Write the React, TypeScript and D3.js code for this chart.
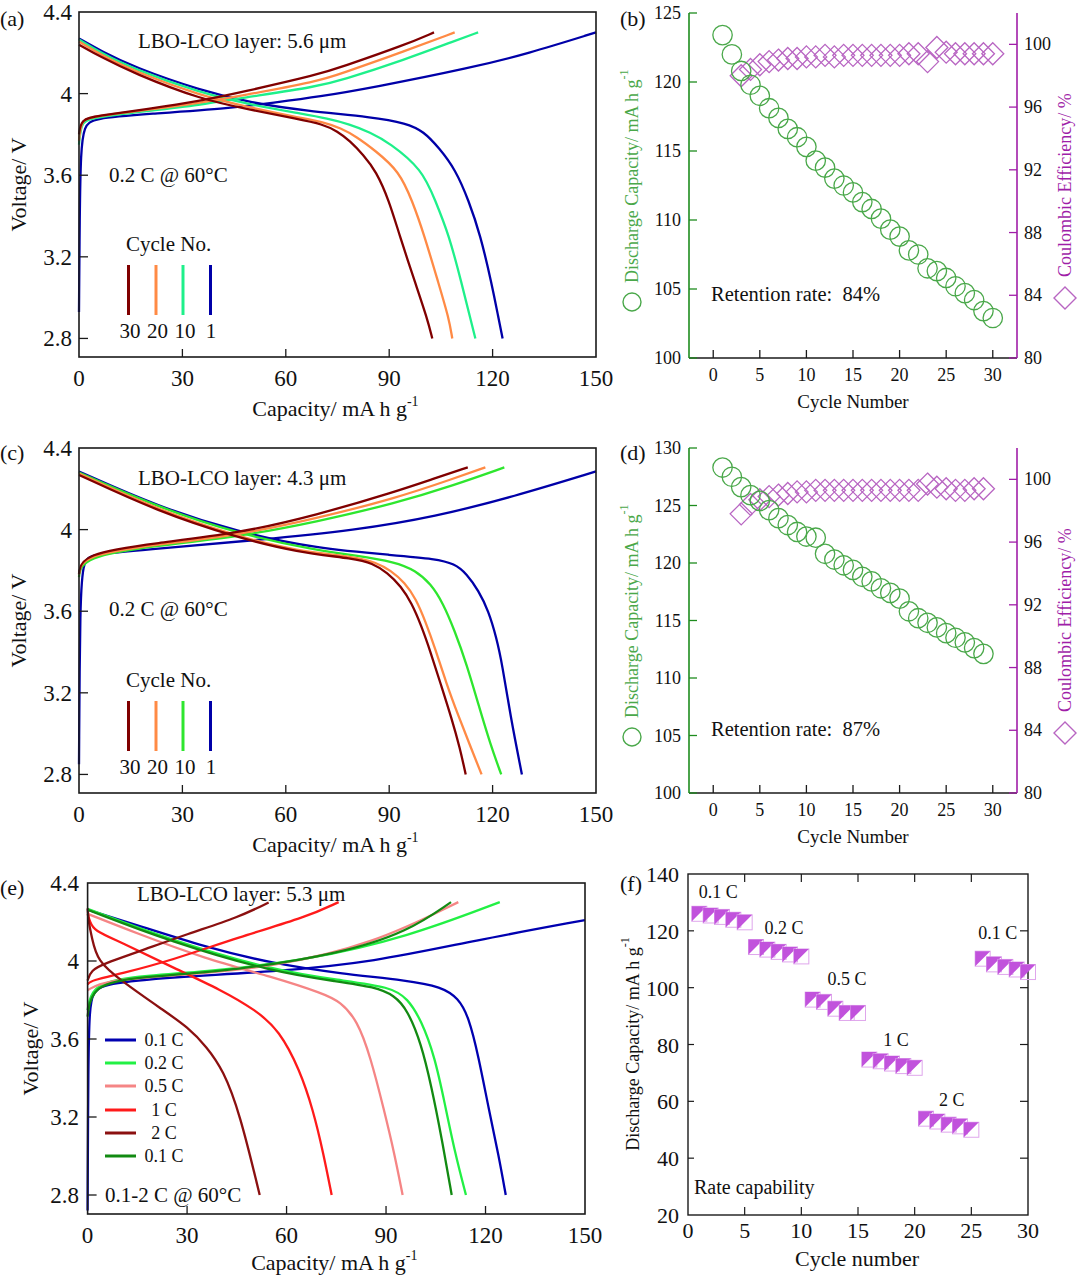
import React from "react";
import * as d3 from "d3";

type P = [number, number];
const SERIF = "'Liberation Serif','Times New Roman',Times,serif";

// ---------------- (a) LBO-LCO 5.6 um : [capacity, voltage] ----------------
const aChg1: P[] = [[0,2.93],[0.2,3.4],[0.5,3.72],[1.5,3.84],[4,3.88],[20,3.9],[44.8,3.93],[56.2,3.955],[69.8,3.985],[85.1,4.029],[113.9,4.127],[130,4.195],[150,4.3]];
const aChg10: P[] = [[0,3.75],[0.6,3.85],[2.5,3.88],[20,3.915],[35.2,3.945],[46.7,3.977],[69.8,4.037],[75.6,4.062],[94.8,4.168],[109.2,4.26],[115.8,4.3]];
const aChg20: P[] = [[0,3.77],[0.6,3.86],[2.5,3.885],[20,3.92],[35.2,3.955],[46.7,3.988],[69.8,4.062],[75.6,4.095],[94.8,4.21],[109,4.3]];
const aChg30: P[] = [[0,3.8],[0.6,3.874],[5,3.89],[20,3.925],[35.2,3.964],[46.7,4.005],[69.8,4.095],[75.6,4.127],[94.8,4.24],[103,4.3]];
const aDis1: P[] = [[0,4.27],[6.3,4.21],[15.9,4.13],[35.2,4.016],[50,3.955],[65.9,3.915],[85.2,3.885],[95,3.855],[100,3.815],[104.4,3.735],[109.2,3.629],[113.1,3.474],[116.4,3.31],[119.8,3.065],[121.7,2.9],[122.9,2.8]];
const aDis10: P[] = [[0,4.265],[6.3,4.2],[15.9,4.12],[35.2,4.004],[50,3.945],[65,3.9],[72,3.878],[78.5,3.85],[84.5,3.81],[90,3.76],[99.6,3.629],[103.4,3.474],[107.3,3.31],[111.1,3.065],[113.5,2.9],[115,2.8]];
const aDis20: P[] = [[0,4.255],[6.3,4.19],[15.9,4.11],[35.2,3.99],[50,3.93],[63,3.885],[70.8,3.862],[76,3.83],[80.4,3.79],[86,3.72],[92.9,3.62],[96.7,3.474],[100.1,3.31],[104.4,3.065],[107.3,2.9],[108.3,2.8]];
const aDis30: P[] = [[0,4.24],[6.3,4.18],[15.9,4.1],[35.2,3.972],[50,3.92],[63,3.877],[70.8,3.85],[75,3.815],[78.5,3.77],[82.5,3.7],[86.2,3.62],[90,3.474],[92.9,3.31],[97.7,3.065],[101,2.9],[102.5,2.8]];

// ---------------- (c) LBO-LCO 4.3 um ----------------
const cChg1: P[] = [[0,2.85],[0.3,3.67],[1.2,3.857],[4.6,3.88],[23,3.907],[51.6,3.948],[80.3,3.997],[103.3,4.063],[126.2,4.162],[150,4.285]];
const cChg10: P[] = [[0,3.767],[0.8,3.866],[23,3.923],[45.9,3.964],[68.9,4.038],[91.8,4.129],[109,4.219],[123.4,4.305]];
const cChg20: P[] = [[0,3.78],[0.8,3.874],[23,3.928],[45.9,3.972],[68.9,4.055],[91.8,4.153],[109,4.252],[117.9,4.305]];
const cChg30: P[] = [[0,3.783],[0.8,3.882],[23,3.935],[45.9,3.981],[68.9,4.071],[91.8,4.186],[103.3,4.252],[112.8,4.305]];
const cDis1: P[] = [[0,4.285],[23,4.112],[45.9,3.989],[68.9,3.907],[91.8,3.874],[103.3,3.857],[109,3.833],[112.5,3.783],[115.9,3.701],[118.8,3.602],[121.1,3.471],[122.8,3.339],[125.1,3.093],[128.5,2.8]];
const cDis10: P[] = [[0,4.28],[23,4.109],[45.9,3.981],[68.9,3.898],[80.3,3.874],[91.8,3.841],[97.6,3.8],[102.1,3.734],[105.6,3.64],[109,3.504],[112.5,3.339],[115.9,3.142],[119.4,2.945],[122.5,2.8]];
const cDis20: P[] = [[0,4.275],[23,4.096],[45.9,3.967],[63.1,3.895],[80.3,3.866],[86,3.84],[90.5,3.8],[94.5,3.74],[97.8,3.66],[100.5,3.55],[103.3,3.42],[106.5,3.25],[110,3.09],[113.5,2.94],[116.8,2.8]];
const cDis30: P[] = [[0,4.268],[23,4.088],[45.9,3.961],[63.1,3.89],[80.3,3.857],[85,3.835],[89.5,3.79],[93.5,3.72],[96.5,3.64],[99.3,3.53],[102,3.4],[105,3.24],[108.2,3.07],[110.5,2.93],[112.2,2.8]];

// ---------------- (e) LBO-LCO 5.3 um, rate test ----------------
const eChg01: P[] = [[0,2.72],[0.2,3.5],[0.6,3.75],[1.5,3.84],[4.9,3.884],[25.3,3.918],[55.8,3.944],[86.4,3.995],[116.9,4.106],[150,4.21]];
const eDis01: P[] = [[0,4.263],[15.1,4.183],[35.4,4.072],[55.8,3.987],[76.2,3.935],[96.5,3.901],[106.7,3.868],[111.8,3.81],[114.9,3.715],[117.9,3.51],[121,3.238],[124,3.0],[126.1,2.8]];
const eChg02: P[] = [[0,3.748],[1.2,3.866],[10,3.918],[35.4,3.944],[66,4.003],[96.5,4.123],[124.3,4.302]];
const eDis02: P[] = [[0,4.268],[25.3,4.106],[55.8,3.953],[76.2,3.901],[91.4,3.867],[96.5,3.808],[100.6,3.697],[104.7,3.509],[107.7,3.27],[110.8,3.015],[114.1,2.8]];
const eChg05: P[] = [[0,3.85],[4.9,3.9],[25.3,3.925],[55.8,3.967],[86.4,4.089],[111.8,4.302]];
const eDis05: P[] = [[0,4.242],[15.1,4.14],[35.4,4.012],[55.8,3.918],[71.1,3.833],[76.2,3.791],[81.3,3.697],[85.3,3.509],[89.4,3.236],[92.5,3.015],[95,2.8]];
const eChg1: P[] = [[0,3.88],[1,3.9],[10,3.935],[25.3,4.003],[45.6,4.123],[66,4.225],[75.7,4.302]];
const eDis1: P[] = [[0,4.24],[0.8,4.2],[1.8,4.157],[10,4.097],[25.3,3.97],[40.5,3.85],[50.7,3.748],[57.8,3.645],[64,3.441],[68,3.236],[71.1,3.015],[73.6,2.8]];
const eChg2: P[] = [[0,3.9],[1,3.952],[4.9,3.986],[15.1,4.046],[30.3,4.14],[45.6,4.225],[54.6,4.3]];
const eDis2: P[] = [[0,4.27],[0.3,4.2],[1.3,4.12],[2.9,4.0],[10,3.9],[22.7,3.749],[30.3,3.66],[35.9,3.56],[40.9,3.441],[45.9,3.22],[51.9,2.8]];
const eChg01b: P[] = [[0,3.715],[1.2,3.877],[15.1,3.918],[45.6,3.953],[76.2,4.038],[96.5,4.149],[109.6,4.302]];
const eDis01b: P[] = [[0,4.263],[25.3,4.097],[55.8,3.944],[76.2,3.893],[86.4,3.867],[92.5,3.825],[96.5,3.748],[100.6,3.577],[103.7,3.356],[106.7,3.1],[109.8,2.8]];
const eLegend = ["0.1 C", "0.2 C", "0.5 C", "1 C", "2 C", "0.1 C"];
const eColors = ["#0000b0", "#22f044", "#f58585", "#ff1a1a", "#8b1010", "#128a12"];

// ---------------- (b), (d) cycling ----------------
const bCap = [123.4,122.0,120.8,119.8,119.0,118.1,117.4,116.6,116.0,115.3,114.3,113.8,113.0,112.5,112.0,111.3,110.8,110.1,109.3,108.8,107.8,107.5,106.5,106.3,105.8,105.2,104.7,104.2,103.4,102.9];
const bCE = [98.0,98.4,98.7,98.9,99.0,99.1,99.1,99.2,99.2,99.3,99.2,99.3,99.3,99.3,99.3,99.3,99.3,99.3,99.4,99.4,98.9,99.8,99.5,99.4,99.4,99.4,99.4,99.4];
const dCap = [128.3,127.5,126.6,125.9,125.4,124.6,123.9,123.3,122.7,122.3,122.2,120.8,120.3,119.8,119.4,118.8,118.4,117.8,117.4,116.9,115.8,115.2,114.8,114.4,113.9,113.5,113.1,112.6,112.1];
const dCE = [97.8,98.4,98.7,98.9,99.0,99.1,99.2,99.2,99.3,99.3,99.3,99.3,99.3,99.3,99.3,99.3,99.3,99.3,99.3,99.3,99.7,99.5,99.4,99.3,99.3,99.4,99.4];
const ceFirstCycle = 3;

// ---------------- (f) rate capability ----------------
const fCap = [126.0,125.4,124.9,123.9,123.0,114.3,113.4,112.6,111.7,111.0,95.8,95.0,92.6,91.1,91.1,74.7,74.1,73.3,72.4,71.8,53.9,52.9,51.8,51.2,50.0,110.2,108.2,107.3,106.4,105.5];
const fRateLabels = ["0.1 C", "0.2 C", "0.5 C", "1 C", "2 C", "0.1 C"];
const fRateLabelPos: P[] = [[2.67,133.8],[8.48,121.1],[14.03,103.2],[18.35,81.7],[23.28,60.6],[27.33,119.4]];

const voltXTicks = [0, 30, 60, 90, 120, 150];
const voltYTicks = [2.8, 3.2, 3.6, 4, 4.4];
const cycXTicks = [0, 5, 10, 15, 20, 25, 30];
const ceTicks = [80, 84, 88, 92, 96, 100];
const fYTicks = [20, 40, 60, 80, 100, 120, 140];
const cycleNoLabels = ["30", "20", "10", "1"];

const GREEN_AX = "#1e8c1e";
const GREEN_MK = "#4aa84a";
const PURPLE_AX = "#a01ea8";
const PURPLE_MK = "#b865c2";

type Curve = { data: P[]; color: string };

function VoltPanel(props: {
  l: number; r: number; t: number; b: number; yMin: number; curves: Curve[];
  ylx: number; tickRight: number; xLabBase: number; xTitleBase: number;
}) {
  const { l, r, t, b, yMin, curves } = props;
  const x = d3.scaleLinear().domain([0, 150]).range([l, r]);
  const y = d3.scaleLinear().domain([yMin, 4.4]).range([b, t]);
  const line = d3.line<P>().x((d) => x(d[0])).y((d) => y(d[1])).curve(d3.curveBasis);
  return (
    <g>
      {curves.map((c, i) => (
        <path key={i} d={line(c.data) || ""} fill="none" stroke={c.color} strokeWidth={2.3} strokeLinejoin="round" />
      ))}
      <rect x={l} y={t} width={r - l} height={b - t} fill="none" stroke="#1a1a1a" strokeWidth={1.6} />
      {voltXTicks.filter((v) => v > 0 && v < 150).map((v) => (
        <line key={"xt" + v} x1={x(v)} x2={x(v)} y1={b} y2={b - 8} stroke="#1a1a1a" strokeWidth={1.3} />
      ))}
      {voltYTicks.filter((v) => v < 4.4).map((v) => (
        <line key={"yt" + v} x1={l} x2={l + 9} y1={y(v)} y2={y(v)} stroke="#1a1a1a" strokeWidth={1.3} />
      ))}
      {voltXTicks.map((v) => (
        <text key={"xl" + v} x={x(v)} y={props.xLabBase} textAnchor="middle" fontSize={23}>{v}</text>
      ))}
      {voltYTicks.map((v) => (
        <text key={"yl" + v} x={props.tickRight} y={y(v) + 8} textAnchor="end" fontSize={23}>{String(v)}</text>
      ))}
      <text x={(l + r) / 2 - 2} y={props.xTitleBase} textAnchor="middle" fontSize={22}>
        Capacity/ mA h g<tspan dy={-10} fontSize={14}>-1</tspan>
      </text>
      <text transform={`translate(${props.ylx},${(t + b) / 2}) rotate(-90)`} textAnchor="middle" dominantBaseline="central" fontSize={22}>Voltage/ V</text>
    </g>
  );
}

function CycleLegend({ yTop, colors }: { yTop: number; colors: string[] }) {
  const xs = [128.5, 156, 183, 210.5];
  const labelX = [130, 157.5, 185, 211];
  return (
    <g>
      <text x={126} y={yTop} fontSize={21}>Cycle No.</text>
      {colors.map((c, i) => (
        <line key={i} x1={xs[i]} x2={xs[i]} y1={yTop + 14} y2={yTop + 64} stroke={c} strokeWidth={3} />
      ))}
      {cycleNoLabels.map((s, i) => (
        <text key={s} x={labelX[i]} y={yTop + 87} textAnchor="middle" fontSize={21}>{s}</text>
      ))}
    </g>
  );
}

function CyclePanel(props: { t: number; b: number; capMax: number; capTicks: number[]; cap: number[]; ce: number[]; retention: string; }) {
  const { t, b, capMax, cap, ce } = props;
  const l = 689, r = 1017;
  const x = d3.scaleLinear().domain([-2.6, 32.6]).range([l, r]);
  const yL = d3.scaleLinear().domain([100, capMax]).range([b, t]);
  const yR = d3.scaleLinear().domain([80, 102]).range([b, t]);
  const s = 11;
  const diamond = (cx: number, cy: number, h: number) => `M${cx},${cy - h}L${cx + h},${cy}L${cx},${cy + h}L${cx - h},${cy}Z`;
  return (
    <g>
      {ce.map((v, i) => (
        <path key={"d" + i} d={diamond(x(i + ceFirstCycle), yR(v), s)} fill="none" stroke={PURPLE_MK} strokeWidth={1.3} />
      ))}
      {cap.map((v, i) => (
        <circle key={"c" + i} cx={x(i + 1)} cy={yL(v)} r={9.7} fill="none" stroke={GREEN_MK} strokeWidth={1.3} />
      ))}
      <line x1={l} x2={r} y1={b} y2={b} stroke="#1a1a1a" strokeWidth={1.6} />
      <line x1={l} x2={l} y1={t} y2={b} stroke={GREEN_AX} strokeWidth={1.6} />
      <line x1={r} x2={r} y1={t} y2={b} stroke={PURPLE_AX} strokeWidth={1.6} />
      {cycXTicks.map((v) => (
        <g key={"x" + v}>
          <line x1={x(v)} x2={x(v)} y1={b} y2={b - 8} stroke="#1a1a1a" strokeWidth={1.3} />
          <text x={x(v)} y={b + 23} textAnchor="middle" fontSize={18}>{v}</text>
        </g>
      ))}
      {props.capTicks.map((v) => (
        <g key={"yl" + v}>
          <line x1={l} x2={l + 8} y1={yL(v)} y2={yL(v)} stroke={GREEN_AX} strokeWidth={1.3} />
          <text x={681} y={yL(v) + 6} textAnchor="end" fontSize={18}>{v}</text>
        </g>
      ))}
      {ceTicks.map((v) => (
        <g key={"yr" + v}>
          <line x1={r} x2={r - 8} y1={yR(v)} y2={yR(v)} stroke={PURPLE_AX} strokeWidth={1.3} />
          <text x={1024} y={yR(v) + 6} textAnchor="start" fontSize={18}>{v}</text>
        </g>
      ))}
      <text x={853} y={b + 50} textAnchor="middle" fontSize={19}>Cycle Number</text>
      <text x={711} y={b - 57} fontSize={20.5} xmlSpace="preserve" style={{ whiteSpace: "pre" }}>{props.retention}</text>
      <circle cx={632} cy={b - 56} r={9} fill="none" stroke={GREEN_MK} strokeWidth={1.4} />
      <text transform={`translate(632,${b - 75}) rotate(-90)`} textAnchor="start" dominantBaseline="central" fontSize={18} fill={GREEN_MK}>
        Discharge Capacity/ mA h g<tspan dy={-8} fontSize={12}>-1</tspan>
      </text>
      <path d={diamond(1065, b - 60, 11)} fill="none" stroke={PURPLE_MK} strokeWidth={1.4} />
      <text transform={`translate(1065,${b - 81}) rotate(-90)`} textAnchor="start" dominantBaseline="central" fontSize={18} fill={PURPLE_AX}>
        Coulombic Efficiency/ %
      </text>
    </g>
  );
}

function RatePanel() {
  const l = 688, r = 1028, t = 874, b = 1215;
  const x = d3.scaleLinear().domain([0, 30]).range([l, r]);
  const y = d3.scaleLinear().domain([20, 140]).range([b, t]);
  const s = 15;
  return (
    <g>
      <rect x={l} y={t} width={r - l} height={b - t} fill="none" stroke="#1a1a1a" strokeWidth={1.4} />
      {cycXTicks.filter((v) => v > 0 && v < 30).map((v) => (
        <g key={"x" + v}>
          <line x1={x(v)} x2={x(v)} y1={b} y2={b - 8} stroke="#1a1a1a" strokeWidth={1.2} />
          <line x1={x(v)} x2={x(v)} y1={t} y2={t + 8} stroke="#1a1a1a" strokeWidth={1.2} />
        </g>
      ))}
      {fYTicks.filter((v) => v > 20 && v < 140).map((v) => (
        <g key={"y" + v}>
          <line x1={r} x2={r - 8} y1={y(v)} y2={y(v)} stroke="#1a1a1a" strokeWidth={1.2} />
          <line x1={l} x2={l + 6} y1={y(v)} y2={y(v)} stroke="#1a1a1a" strokeWidth={1.2} />
        </g>
      ))}
      {cycXTicks.map((v) => (
        <text key={"xl" + v} x={x(v)} y={1238} textAnchor="middle" fontSize={22}>{v}</text>
      ))}
      {fYTicks.map((v) => (
        <text key={"yl" + v} x={679} y={y(v) + 8} textAnchor="end" fontSize={22}>{v}</text>
      ))}
      {fCap.map((v, i) => {
        const cx = x(i + 1), cy = y(v);
        return (
          <g key={"m" + i}>
            <rect x={cx - s / 2} y={cy - s / 2} width={s} height={s} fill="none" stroke="#dfa6ec" strokeWidth={1} />
            <path d={`M${cx - s / 2},${cy - s / 2}L${cx + s / 2},${cy - s / 2}L${cx - s / 2},${cy + s / 2}Z`} fill="#c152dc" />
          </g>
        );
      })}
      {fRateLabels.map((lab, i) => (
        <text key={"rl" + i} x={x(fRateLabelPos[i][0])} y={y(fRateLabelPos[i][1]) + 6} textAnchor="middle" fontSize={18}>{lab}</text>
      ))}
      <text x={694} y={1194} fontSize={20}>Rate capability</text>
      <text x={857} y={1266} textAnchor="middle" fontSize={22}>Cycle number</text>
      <text transform={`translate(633,1044) rotate(-90)`} textAnchor="middle" dominantBaseline="central" fontSize={18}>
        Discharge Capacity/ mA h g<tspan dy={-8} fontSize={12}>-1</tspan>
      </text>
    </g>
  );
}

export default function App() {
  const acColors = ["#0000a8", "#1ef08a", "#ff8a45", "#800000"];
  const cColors = ["#0000a8", "#2ee62e", "#ff8a45", "#800000"];
  const aCurves: Curve[] = [
    { data: aChg1, color: acColors[0] }, { data: aDis1, color: acColors[0] },
    { data: aChg10, color: acColors[1] }, { data: aDis10, color: acColors[1] },
    { data: aChg20, color: acColors[2] }, { data: aDis20, color: acColors[2] },
    { data: aChg30, color: acColors[3] }, { data: aDis30, color: acColors[3] },
  ];
  const cCurves: Curve[] = [
    { data: cChg1, color: cColors[0] }, { data: cDis1, color: cColors[0] },
    { data: cChg10, color: cColors[1] }, { data: cDis10, color: cColors[1] },
    { data: cChg20, color: cColors[2] }, { data: cDis20, color: cColors[2] },
    { data: cChg30, color: cColors[3] }, { data: cDis30, color: cColors[3] },
  ];
  const eCurves: Curve[] = [
    { data: eChg01, color: eColors[0] }, { data: eDis01, color: eColors[0] },
    { data: eChg02, color: eColors[1] }, { data: eDis02, color: eColors[1] },
    { data: eChg05, color: eColors[2] }, { data: eDis05, color: eColors[2] },
    { data: eChg1, color: eColors[3] }, { data: eDis1, color: eColors[3] },
    { data: eChg2, color: eColors[4] }, { data: eDis2, color: eColors[4] },
    { data: eChg01b, color: eColors[5] }, { data: eDis01b, color: eColors[5] },
  ];
  const legendColors = [acColors[3], acColors[2], acColors[1], acColors[0]];
  const legendColorsC = [cColors[3], cColors[2], cColors[1], cColors[0]];
  const eLegY = [1040, 1063, 1086, 1110, 1133, 1156];
  return (
    <svg width={1080} height={1281} style={{ position: "absolute", left: 0, top: 0 }} fontFamily={SERIF} fill="#111">
      <rect width={1080} height={1281} fill="#fff" />
      {/* (a) */}
      <VoltPanel l={79} r={596} t={12} b={357} yMin={2.709} curves={aCurves} ylx={18} tickRight={72} xLabBase={386} xTitleBase={416} />
      <text x={0} y={26} fontSize={22}>(a)</text>
      <text x={138} y={48} fontSize={21}>LBO-LCO layer: 5.6 μm</text>
      <text x={109} y={182} fontSize={21}>0.2 C @ 60°C</text>
      <CycleLegend yTop={251} colors={legendColors} />
      {/* (c) */}
      <VoltPanel l={79} r={596} t={448} b={793} yMin={2.709} curves={cCurves} ylx={18} tickRight={72} xLabBase={822} xTitleBase={852} />
      <text x={0} y={460} fontSize={22}>(c)</text>
      <text x={138} y={485} fontSize={21}>LBO-LCO layer: 4.3 μm</text>
      <text x={109} y={616} fontSize={21}>0.2 C @ 60°C</text>
      <CycleLegend yTop={687} colors={legendColorsC} />
      {/* (e) */}
      <VoltPanel l={87.6} r={585} t={883} b={1214} yMin={2.7026} curves={eCurves} ylx={30} tickRight={79} xLabBase={1243} xTitleBase={1270} />
      <text x={0} y={895} fontSize={22}>(e)</text>
      <text x={137} y={901} fontSize={21}>LBO-LCO layer: 5.3 μm</text>
      {eLegend.map((lab, i) => (
        <g key={"el" + i}>
          <line x1={105} x2={136} y1={eLegY[i]} y2={eLegY[i]} stroke={eColors[i]} strokeWidth={3} />
          <text x={164} y={eLegY[i] + 6} textAnchor="middle" fontSize={18}>{lab}</text>
        </g>
      ))}
      <text x={105} y={1202} fontSize={21}>0.1-2 C @ 60°C</text>
      {/* (b) */}
      <CyclePanel t={13} b={358} capMax={125} capTicks={[100, 105, 110, 115, 120, 125]} cap={bCap} ce={bCE} retention="Retention rate:  84%" />
      <text x={620} y={26} fontSize={22}>(b)</text>
      {/* (d) */}
      <CyclePanel t={448} b={793} capMax={130} capTicks={[100, 105, 110, 115, 120, 125, 130]} cap={dCap} ce={dCE} retention="Retention rate:  87%" />
      <text x={620} y={460} fontSize={22}>(d)</text>
      {/* (f) */}
      <RatePanel />
      <text x={620} y={891} fontSize={22}>(f)</text>
    </svg>
  );
}
